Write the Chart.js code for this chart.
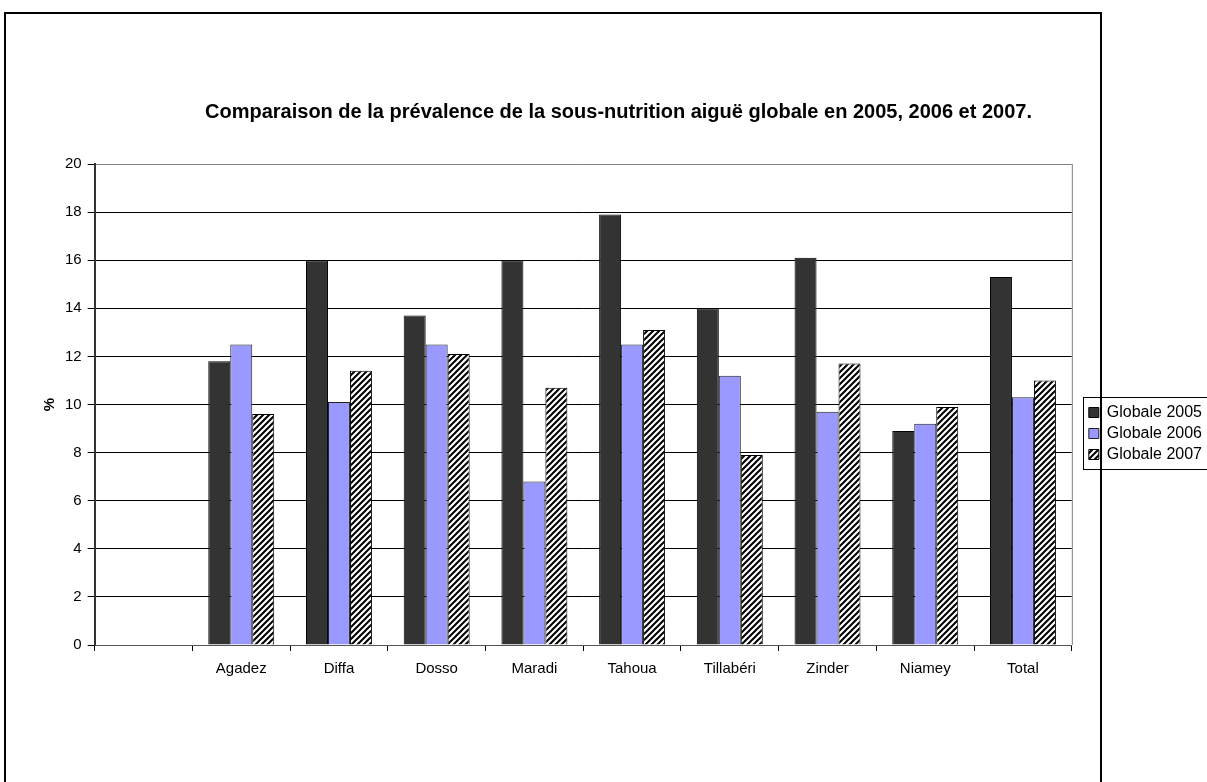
<!DOCTYPE html>
<html>
<head>
<meta charset="utf-8">
<script src="https://cdn.jsdelivr.net/npm/chart.js@4.4.1/dist/chart.umd.min.js"></script>
<style>
  body { margin: 0; background: #fff; }
  #frame { position: absolute; left: 4px; top: 12px; width: 1094px; height: 820px; border: 2px solid #000; border-bottom: none; }
  #wrap { position: absolute; left: 0; top: 0; width: 1207px; height: 782px; }
</style>
</head>
<body>
<div id="frame"></div>
<div id="wrap"><canvas id="prev-chart"></canvas></div>
<script>
var regions = ['', 'Agadez', 'Diffa', 'Dosso', 'Maradi', 'Tahoua', 'Tillabéri', 'Zinder', 'Niamey', 'Total']
var globale2005 = [null, 11.8, 16.0, 13.7, 16.0, 17.9, 14.0, 16.1, 8.9, 15.3]
var globale2006 = [null, 12.5, 10.1, 12.5, 6.8, 12.5, 11.2, 9.7, 9.2, 10.3]
var globale2007 = [null, 9.6, 11.4, 12.1, 10.7, 13.1, 7.9, 11.7, 9.9, 11.0]

// diagonal hatch for the 2007 series
var tile = document.createElement('canvas')
tile.width = 6
tile.height = 6
var tctx = tile.getContext('2d')
tctx.fillStyle = '#fff'
tctx.fillRect(0, 0, 6, 6)
tctx.strokeStyle = '#000'
tctx.lineWidth = 2
tctx.beginPath()
tctx.moveTo(-1, 7); tctx.lineTo(7, -1)
tctx.moveTo(-4, 4); tctx.lineTo(4, -4)
tctx.moveTo(2, 10); tctx.lineTo(10, 2)
tctx.stroke()
var ctx = document.getElementById('prev-chart').getContext('2d')
var hatch = ctx.createPattern(tile, 'repeat')

// moves the legend next to the plot and draws its box and the plot border
var extras = {
    id: 'extras',
    afterUpdate: function(chart) {
        var lg = chart.legend
        var dx = 12, dy = 90
        lg.left += dx; lg.right += dx
        lg.top += dy; lg.bottom += dy
        lg.legendHitBoxes.forEach(function(h) { h.left += dx; h.top += dy })
    },
    afterDraw: function(chart) {
        var c = chart.ctx, a = chart.chartArea, hb = chart.legend.legendHitBoxes
        c.save()
        c.strokeStyle = '#808080'
        c.lineWidth = 1
        c.beginPath()
        c.moveTo(a.right + 0.5, a.top)
        c.lineTo(a.right + 0.5, a.bottom)
        c.stroke()
        c.strokeStyle = '#000'
        var top = hb[0].top - 8
        var bottom = hb[hb.length - 1].top + hb[hb.length - 1].height + 6
        c.strokeRect(Math.round(hb[0].left) - 5.5, Math.round(top) + 0.5, 140, Math.round(bottom - top))
        c.restore()
    }
}

var chart = new Chart(ctx, {
    type: 'bar',
    data: {
        labels: regions,
        datasets: [{
            label: 'Globale 2005',
            data: globale2005,
            backgroundColor: '#333333',
            borderColor: '#000',
            borderWidth: 1
        }, {
            label: 'Globale 2006',
            data: globale2006,
            backgroundColor: '#9999ff',
            borderColor: '#222',
            borderWidth: 1
        }, {
            label: 'Globale 2007',
            data: globale2007,
            backgroundColor: hatch,
            borderColor: '#000',
            borderWidth: 1
        }]
    },
    options: {
        responsive: true,
        maintainAspectRatio: false,
        animation: false,
        categoryPercentage: 0.675,
        barPercentage: 1,
        layout: {
            padding: { left: 37, right: 7, top: 0, bottom: 95 }
        },
        scales: {
            x: {
                grid: {
                    offset: true,
                    drawOnChartArea: false,
                    tickLength: 6,
                    tickColor: '#000'
                },
                border: { color: '#555', width: 1 },
                ticks: {
                    color: '#000',
                    padding: 9,
                    font: { family: 'Liberation Sans, Arial', size: 15 }
                }
            },
            y: {
                min: 0,
                max: 20,
                ticks: {
                    stepSize: 2,
                    color: '#000',
                    padding: 6,
                    font: { family: 'Liberation Sans, Arial', size: 15 }
                },
                grid: {
                    tickLength: 7,
                    color: function(c) { return c.tick && c.tick.value === 20 ? '#808080' : '#000' },
                    tickColor: '#000'
                },
                border: { color: '#333', width: 2 },
                title: {
                    display: true,
                    text: '%',
                    color: '#000',
                    padding: { top: 4, bottom: 0 },
                    font: { family: 'Liberation Sans, Arial', size: 15, weight: 'bold' }
                }
            }
        },
        plugins: {
            legend: {
                position: 'right',
                labels: {
                    boxWidth: 10,
                    boxHeight: 10,
                    padding: 5,
                    color: '#000',
                    font: { family: 'Liberation Sans, Arial', size: 16 }
                }
            },
            title: {
                display: true,
                text: 'Comparaison de la prévalence de la sous-nutrition aiguë globale en 2005, 2006 et 2007.',
                color: '#000',
                padding: { top: 100, bottom: 40 },
                font: { family: 'Liberation Sans, Arial', size: 20, weight: 'bold' }
            },
            tooltip: { enabled: false }
        }
    },
    plugins: [extras]
})
</script>
</body>
</html>
